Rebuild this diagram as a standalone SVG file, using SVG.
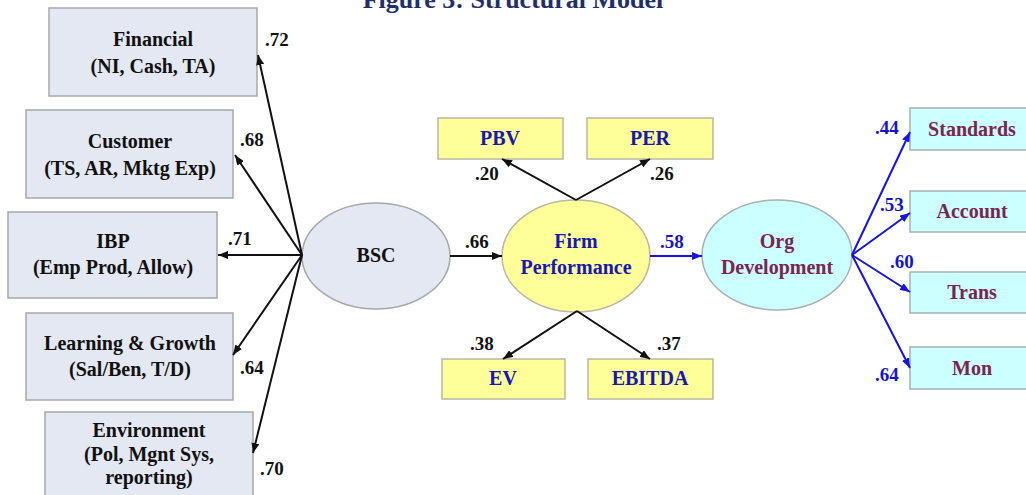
<svg xmlns="http://www.w3.org/2000/svg" width="1026" height="495" viewBox="0 0 1026 495">
<style>
text{font-family:"Liberation Serif","Times New Roman",serif;font-weight:bold;text-anchor:middle}
.t{font-size:20px;fill:#111}
.num{font-size:19px;fill:#111;text-anchor:start}
.bnum{font-size:19px;fill:#1515C8;text-anchor:start}
.blue{font-size:20px;fill:#1818B0}
.mar{font-size:20px;fill:#7A2452}
.gbox{fill:#E3E8F2;stroke:#A8A8A8;stroke-width:1.5}
.ybox{fill:#FFFF99;stroke:#B8B8A0;stroke-width:1.5}
.cbox{fill:#CCFFFF;stroke:#A8B0B0;stroke-width:1.5}
.k{stroke:#111;stroke-width:2;fill:none;marker-end:url(#ak)}
.b{stroke:#1515E0;stroke-width:2;fill:none;marker-end:url(#ab)}
</style>
<defs>
<marker id="ak" viewBox="0 0 10 8" refX="10" refY="4" markerWidth="10" markerHeight="8" markerUnits="userSpaceOnUse" orient="auto"><path d="M0,0 L10,4 L0,8 z" fill="#111"/></marker>
<marker id="ab" viewBox="0 0 10 8" refX="10" refY="4" markerWidth="10" markerHeight="8" markerUnits="userSpaceOnUse" orient="auto"><path d="M0,0 L10,4 L0,8 z" fill="#1515E0"/></marker>
</defs>
<rect width="1026" height="495" fill="#FFFFFF"/>
<text x="513" y="8" style="font-size:26px;fill:#1F2F6B">Figure 3: Structural Model</text>

<g id="financial"><rect class="gbox" x="49" y="8" width="208" height="88"/><text class="t" x="153" y="46">Financial</text><text class="t" x="153" y="73">(NI, Cash, TA)</text></g>
<g id="customer"><rect class="gbox" x="26" y="110" width="207" height="88"/><text class="t" x="130" y="148">Customer</text><text class="t" x="130" y="175">(TS, AR, Mktg Exp)</text></g>
<g id="ibp"><rect class="gbox" x="8" y="212" width="209" height="86"/><text class="t" x="113" y="248">IBP</text><text class="t" x="113" y="274">(Emp Prod, Allow)</text></g>
<g id="learning"><rect class="gbox" x="26" y="313" width="207" height="87"/><text class="t" x="130" y="350">Learning &amp; Growth</text><text class="t" x="130" y="376">(Sal/Ben, T/D)</text></g>
<g id="environment"><rect class="gbox" x="45" y="412" width="208" height="90"/><text class="t" x="149" y="437">Environment</text><text class="t" x="149" y="461">(Pol, Mgnt Sys,</text><text class="t" x="149" y="484">reporting)</text></g>

<g id="bsc"><ellipse cx="376" cy="256" rx="74" ry="53" fill="#E3E8F2" stroke="#A8A8A8" stroke-width="1.5"/><text class="t" x="376" y="262">BSC</text></g>
<g id="firm"><ellipse cx="576" cy="256" rx="74" ry="56" fill="#FFFF99" stroke="#B8B8A0" stroke-width="1.5"/><text class="blue" x="576" y="248">Firm</text><text class="blue" x="576" y="274">Performance</text></g>
<g id="org"><ellipse cx="777" cy="255" rx="75" ry="55" fill="#CCFFFF" stroke="#A8B0B0" stroke-width="1.5"/><text class="mar" x="777" y="248">Org</text><text class="mar" x="777" y="274">Development</text></g>

<g id="pbv"><rect class="ybox" x="438" y="118" width="125" height="41"/><text class="blue" x="500" y="145">PBV</text></g>
<g id="per"><rect class="ybox" x="587" y="118" width="126" height="41"/><text class="blue" x="650" y="145">PER</text></g>
<g id="ev"><rect class="ybox" x="442" y="359" width="123" height="40"/><text class="blue" x="503" y="385">EV</text></g>
<g id="ebitda"><rect class="ybox" x="588" y="359" width="125" height="40"/><text class="blue" x="650" y="385">EBITDA</text></g>

<g id="standards"><rect class="cbox" x="910" y="108" width="125" height="42"/><text class="mar" x="972" y="136">Standards</text></g>
<g id="account"><rect class="cbox" x="910" y="191" width="125" height="41"/><text class="mar" x="972" y="218">Account</text></g>
<g id="trans"><rect class="cbox" x="910" y="272" width="125" height="41"/><text class="mar" x="972" y="299">Trans</text></g>
<g id="mon"><rect class="cbox" x="910" y="347" width="125" height="42"/><text class="mar" x="972" y="375">Mon</text></g>

<g id="connectors">
<line class="k" x1="302" y1="255" x2="258" y2="55"/>
<line class="k" x1="302" y1="255" x2="235" y2="155"/>
<line class="k" x1="302" y1="255" x2="218" y2="255"/>
<line class="k" x1="302" y1="255" x2="233" y2="355"/>
<line class="k" x1="302" y1="255" x2="253" y2="453"/>
<line class="k" x1="450" y1="256" x2="502" y2="256"/>
<line class="k" x1="576" y1="200" x2="502" y2="159"/>
<line class="k" x1="576" y1="200" x2="650" y2="159"/>
<line class="k" x1="577" y1="311" x2="503" y2="359"/>
<line class="k" x1="577" y1="311" x2="650" y2="359"/>
<line class="b" x1="650" y1="256" x2="702" y2="256"/>
<line class="b" x1="852" y1="255" x2="910" y2="132"/>
<line class="b" x1="852" y1="255" x2="910" y2="213"/>
<line class="b" x1="852" y1="255" x2="910" y2="292"/>
<line class="b" x1="852" y1="255" x2="910" y2="368"/>
</g>

<g id="labels">
<text class="num" x="265" y="46">.72</text>
<text class="num" x="240" y="146">.68</text>
<text class="num" x="228" y="245">.71</text>
<text class="num" x="240" y="374">.64</text>
<text class="num" x="260" y="475">.70</text>
<text class="num" x="465" y="248">.66</text>
<text class="num" x="475" y="180">.20</text>
<text class="num" x="650" y="180">.26</text>
<text class="num" x="470" y="350">.38</text>
<text class="num" x="657" y="350">.37</text>
<text class="bnum" x="660" y="248">.58</text>
<text class="bnum" x="875" y="134">.44</text>
<text class="bnum" x="880" y="211">.53</text>
<text class="bnum" x="890" y="268">.60</text>
<text class="bnum" x="875" y="381">.64</text>
</g>
</svg>
